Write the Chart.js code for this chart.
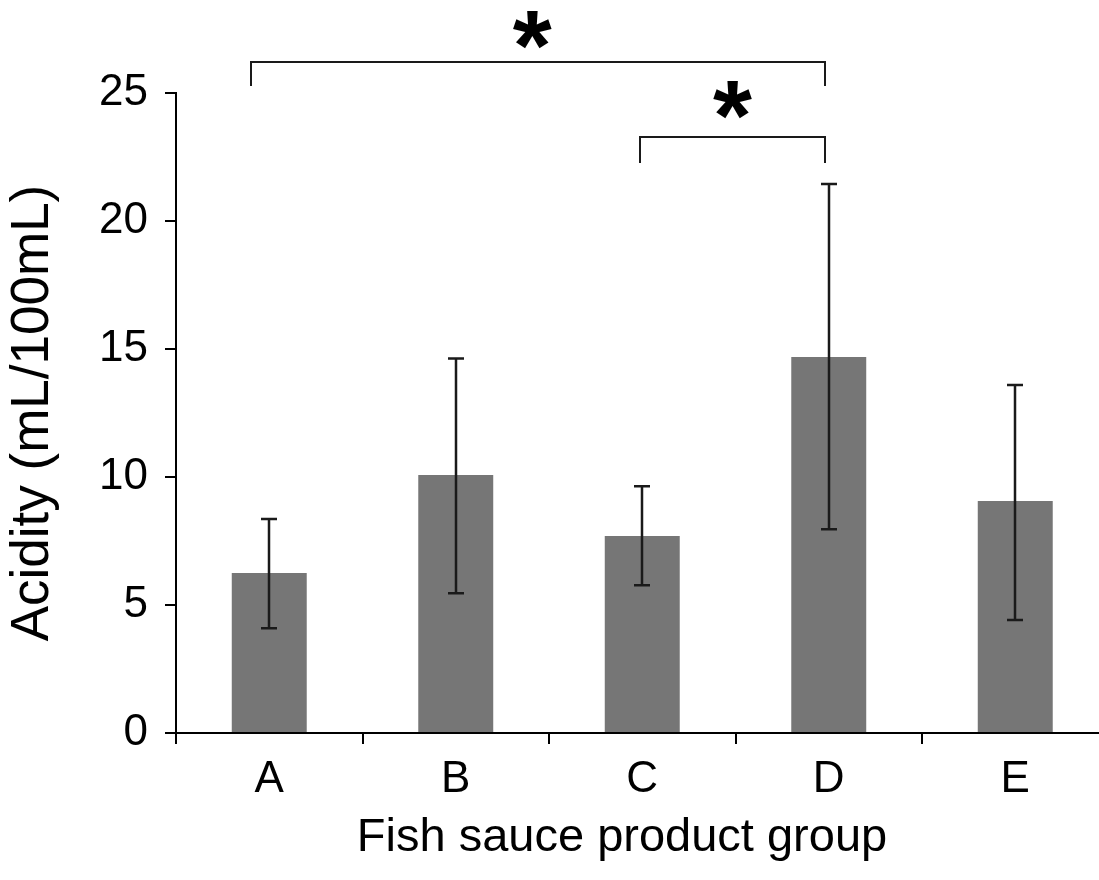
<!DOCTYPE html>
<html>
<head>
<meta charset="utf-8">
<script src="https://cdn.jsdelivr.net/npm/chart.js@4/dist/chart.umd.min.js"></script>
<style>
html,body{margin:0;padding:0;background:#fff;overflow:hidden;}
#wrap{width:1110px;height:880px;position:relative;}
</style>
</head>
<body>
<div id="wrap"><canvas id="c" width="1110" height="880"></canvas></div>
<script>
// ---- data ----
const categories = ['A', 'B', 'C', 'D', 'E'];
const acidityMeans = [6.25, 10.08, 7.70, 14.69, 9.06];
const errorLow = [4.09, 5.46, 5.77, 7.96, 4.41];
const errorHigh = [8.36, 14.63, 9.64, 21.45, 13.59];
const yTickStep = 5;
const yMax = 25;
const xTitle = 'Fish sauce product group';
const yTitle = 'Acidity (mL/100mL)';
// significance brackets (category index units / value units)
const bracketFrom = [-0.10, 1.99];
const bracketTo = [2.98, 2.98];
const bracketLevel = [26.22, 23.29];
const bracketLegEnd = [25.29, 22.25];
const starX = [1.41, 2.484];
const starY = [27.46, 24.73];
const starText = ['*', '*'];

const FONT = "'Liberation Sans', Arial, Helvetica, sans-serif";

const overlayPlugin = {
  id: 'overlay',
  afterDatasetsDraw(chart) {
    const ctx = chart.ctx, xs = chart.scales.x, ys = chart.scales.y;
    ctx.save();
    ctx.strokeStyle = '#1a1a1a';
    ctx.lineWidth = 2.5;
    for (let i = 0; i < categories.length; i++) {
      const x = Math.round(xs.getPixelForValue(i));
      const yl = ys.getPixelForValue(errorLow[i]);
      const yh = ys.getPixelForValue(errorHigh[i]);
      ctx.beginPath();
      ctx.moveTo(x, yl); ctx.lineTo(x, yh);
      ctx.moveTo(x - 8, yl); ctx.lineTo(x + 8, yl);
      ctx.moveTo(x - 8, yh); ctx.lineTo(x + 8, yh);
      ctx.stroke();
    }
    // brackets
    ctx.strokeStyle = '#1a1a1a';
    ctx.lineWidth = 2;
    for (let k = 0; k < bracketFrom.length; k++) {
      const x1 = Math.round(xs.getPixelForValue(bracketFrom[k]));
      const x2 = Math.round(xs.getPixelForValue(bracketTo[k]));
      const y = Math.round(ys.getPixelForValue(bracketLevel[k]));
      const ye = Math.round(ys.getPixelForValue(bracketLegEnd[k]));
      ctx.beginPath();
      ctx.moveTo(x1, ye); ctx.lineTo(x1, y); ctx.lineTo(x2, y); ctx.lineTo(x2, ye);
      ctx.stroke();
    }
    // stars
    ctx.fillStyle = '#000';
    ctx.font = 'bold 100px ' + FONT;
    ctx.textAlign = 'center';
    ctx.textBaseline = 'alphabetic';
    for (let k = 0; k < starX.length; k++) {
      const m = ctx.measureText(starText[k]);
      const cx = xs.getPixelForValue(starX[k]);
      const cy = ys.getPixelForValue(starY[k]);
      const asc = m.actualBoundingBoxAscent, desc = m.actualBoundingBoxDescent;
      ctx.fillText(starText[k], cx, cy + (asc - desc) / 2);
    }
    // x axis title
    ctx.font = '47px ' + FONT;
    ctx.textAlign = 'center';
    ctx.textBaseline = 'alphabetic';
    ctx.fillText(xTitle, 622, 851);
    ctx.restore();
  }
};

new Chart(document.getElementById('c'), {
  type: 'bar',
  data: {
    labels: categories,
    datasets: [{
      data: acidityMeans,
      backgroundColor: '#767676',
      borderWidth: 0,
      barPercentage: 0.402,
      categoryPercentage: 1.0
    }]
  },
  options: {
    responsive: false,
    animation: false,
    events: [],
    layout: { padding: { top: 93, left: 0, right: 1.5, bottom: 0 } },
    plugins: { legend: { display: false }, tooltip: { enabled: false } },
    scales: {
      x: {
        grid: { display: true, offset: true, drawOnChartArea: false, drawTicks: true, tickLength: 11, color: '#000', lineWidth: 2 },
        border: { display: true, color: '#000', width: 2 },
        ticks: { color: '#000', font: { family: FONT, size: 44 }, padding: 9 },
        title: { display: false },
        afterFit(scale) { scale.height = 147; }
      },
      y: {
        min: 0, max: yMax,
        grid: { display: true, drawOnChartArea: false, drawTicks: true, tickLength: 11, color: '#000', lineWidth: 2 },
        border: { display: true, color: '#000', width: 2 },
        ticks: { stepSize: yTickStep, color: '#000', font: { family: FONT, size: 44 }, padding: 17 },
        title: { display: true, text: yTitle, color: '#000', font: { family: FONT, size: 53 }, padding: { top: 2, bottom: 0 } },
        afterFit(scale) { scale.width = 176; }
      }
    }
  },
  plugins: [overlayPlugin]
});
</script>
</body>
</html>
